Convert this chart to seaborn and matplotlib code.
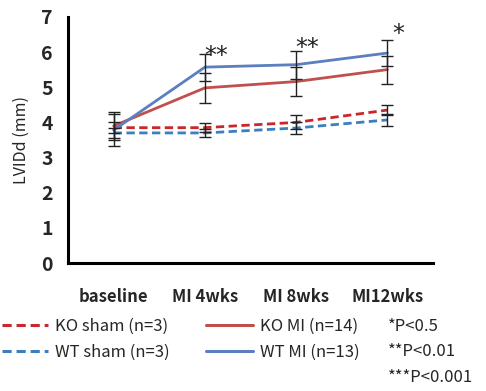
import numpy as np
import pandas as pd
import matplotlib
matplotlib.use('Agg')
import matplotlib.pyplot as plt
from matplotlib.lines import Line2D
import seaborn as sns

# data
timepoints = ["baseline", "MI 4wks", "MI 8wks", "MI12wks"]
ko_sham = [3.85, 3.85, 4.00, 4.35]
ko_sham_err = [0.15, 0.12, 0.20, 0.15]
wt_sham = [3.70, 3.70, 3.84, 4.07]
wt_sham_err = [0.15, 0.12, 0.18, 0.17]
ko_mi = [3.90, 4.98, 5.16, 5.50]
ko_mi_err = [0.40, 0.43, 0.42, 0.40]
wt_mi = [3.78, 5.57, 5.64, 5.97]
wt_mi_err = [0.45, 0.38, 0.40, 0.37]
groups = ["KO sham (n=3)", "WT sham (n=3)", "KO MI (n=14)", "WT MI (n=13)"]
stars = ["", "**", "**", "*"]
star_y = [0, 5.9, 6.12, 6.5]
pnotes = ["*P<0.5", "**P<0.01", "***P<0.001"]

colors = {groups[0]: "#c8282d", groups[1]: "#3a80c0",
          groups[2]: "#c0504d", groups[3]: "#5b7fbf"}
dashes = {groups[0]: (3, 1.6), groups[1]: (3, 1.6), groups[2]: "", groups[3]: ""}

sns.set_style("white")
plt.rcParams['font.family'] = ['Noto Sans CJK JP', 'DejaVu Sans']

xs = np.arange(len(timepoints))
vals = [ko_sham, wt_sham, ko_mi, wt_mi]
errs = [ko_sham_err, wt_sham_err, ko_mi_err, wt_mi_err]
df = pd.DataFrame({
    "x": np.tile(xs, len(groups)),
    "LVIDd": np.concatenate(vals),
    "err": np.concatenate(errs),
    "group": np.repeat(groups, len(xs)),
})

fig = plt.figure(figsize=(4.86, 3.91), dpi=100)
ax = fig.add_axes([0.14, 0.327, 0.751, 0.63])

for g, v, e in zip(groups, vals, errs):
    ax.errorbar(xs, v, yerr=e, fmt='none', ecolor='#222222', elinewidth=1.0,
                capsize=4, capthick=1.0, zorder=3)

sns.lineplot(data=df, x="x", y="LVIDd", hue="group", style="group",
             palette=colors, dashes=dashes, linewidth=2.0, ax=ax,
             legend=False, zorder=2)

for x, s, y in zip(xs, stars, star_y):
    if s:
        ax.text(x + 0.12, y, s, ha='center', va='center', fontsize=17,
                color='#222222', family='DejaVu Sans')

ax.set_xlim(-0.5, len(timepoints) - 0.5)
ax.set_ylim(0, 7)
ax.set_yticks(range(0, 8))
ax.set_xticks(xs)
ax.set_xticklabels(timepoints, fontsize=12, fontweight='bold')
ax.set_xticks(np.arange(-0.5, len(timepoints)), minor=True)
ax.tick_params(axis='x', which='major', length=0, pad=18)
ax.tick_params(axis='x', which='minor', length=4, width=2, direction='out')
ax.tick_params(axis='y', length=5, width=2, direction='out', labelsize=14,
               pad=6)
for t in ax.get_yticklabels():
    t.set_fontweight('bold')
ax.set_xlabel("")
ax.set_ylabel("LVIDd (mm)", fontsize=11.5, labelpad=8)
sns.despine(ax=ax)
for sp in ["left", "bottom"]:
    ax.spines[sp].set_linewidth(2.2)
    ax.spines[sp].set_color("black")

handles = [Line2D([], [], color=colors[g], linewidth=2.2,
                  linestyle=(0, dashes[g]) if dashes[g] else '-')
           for g in groups]
fig.legend(handles, groups, loc='upper left', bbox_to_anchor=(-0.01, 0.205),
           ncol=2, frameon=False, fontsize=12, handlelength=2.8,
           handletextpad=0.4, columnspacing=2.2, labelspacing=0.55,
           borderaxespad=0)

for i, note in enumerate(pnotes):
    fig.text(0.798, 0.166 - i * 0.066, note, fontsize=12, ha='left',
             va='center')

plt.savefig("out.png", dpi=100)
plt.close()
